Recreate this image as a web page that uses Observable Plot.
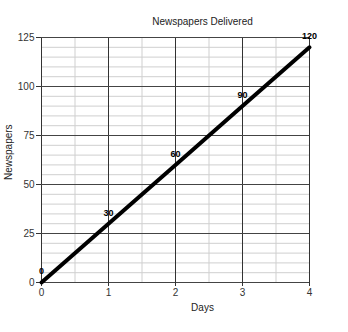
<!DOCTYPE html>
<html><head><meta charset="utf-8">
<script src="https://cdn.jsdelivr.net/npm/d3@7"></script>
<script src="https://cdn.jsdelivr.net/npm/@observablehq/plot@0.6"></script>
<style>body{margin:0;background:#fff} svg{font-family:"Liberation Sans",Arial,sans-serif}</style>
</head><body><div id="c"></div><script>
const days = [0, 1, 2, 3, 4];
const newspapers = [0, 30, 60, 90, 120];
const xTicks = [0, 1, 2, 3, 4];
const yTicks = [0, 25, 50, 75, 100, 125];
const xMinor = [0.5, 1.5, 2.5, 3.5];
const yMinor = d3.range(5, 125, 5).filter(v => v % 25 !== 0);
const title = "Newspapers Delivered";
const xLabel = "Days";
const yLabel = "Newspapers";
const data = days.map((d, i) => ({d, n: newspapers[i]}));

const chart = Plot.plot({
  width: 348, height: 332,
  marginLeft: 41, marginRight: 39, marginTop: 37, marginBottom: 50,
  style: {fontFamily: '"Liberation Sans", Arial, sans-serif', fontSize: "10px", color: "#333", background: "#fff"},
  x: {domain: [0, 4], label: null},
  y: {domain: [0, 125], label: null},
  marks: [
    Plot.gridX(xMinor, {stroke: "#cfcfcf", strokeOpacity: 1}),
    Plot.gridY(yMinor, {stroke: "#cfcfcf", strokeOpacity: 1}),
    Plot.gridX(xTicks, {stroke: "#333", strokeOpacity: 1}),
    Plot.gridY(yTicks, {stroke: "#444", strokeOpacity: 1}),
    Plot.axisX(xTicks, {tickSize: 4, tickPadding: 2, stroke: "#333", fill: "#333", fontSize: 10}),
    Plot.axisY(yTicks, {tickSize: 5, tickPadding: 2, stroke: "#333", fill: "#333", fontSize: 10}),
    Plot.line(data, {x: "d", y: "n", stroke: "#000", strokeWidth: 4}),
    Plot.text(data, {x: "d", y: "n", text: d => String(d.n), dy: -11, fontWeight: "bold", fontSize: 9, fill: "#000"}),
    Plot.text([title], {frameAnchor: "top", dy: -20, dx: 27, fontSize: 10, fill: "#222"}),
    Plot.text([xLabel], {frameAnchor: "bottom", dy: 28, dx: 27, fontSize: 10, fill: "#222"}),
    Plot.text([yLabel], {frameAnchor: "left", dx: -33, dy: 20, rotate: -90, fontSize: 10, fill: "#222"})
  ]
});
document.getElementById("c").append(chart);
</script></body></html>
